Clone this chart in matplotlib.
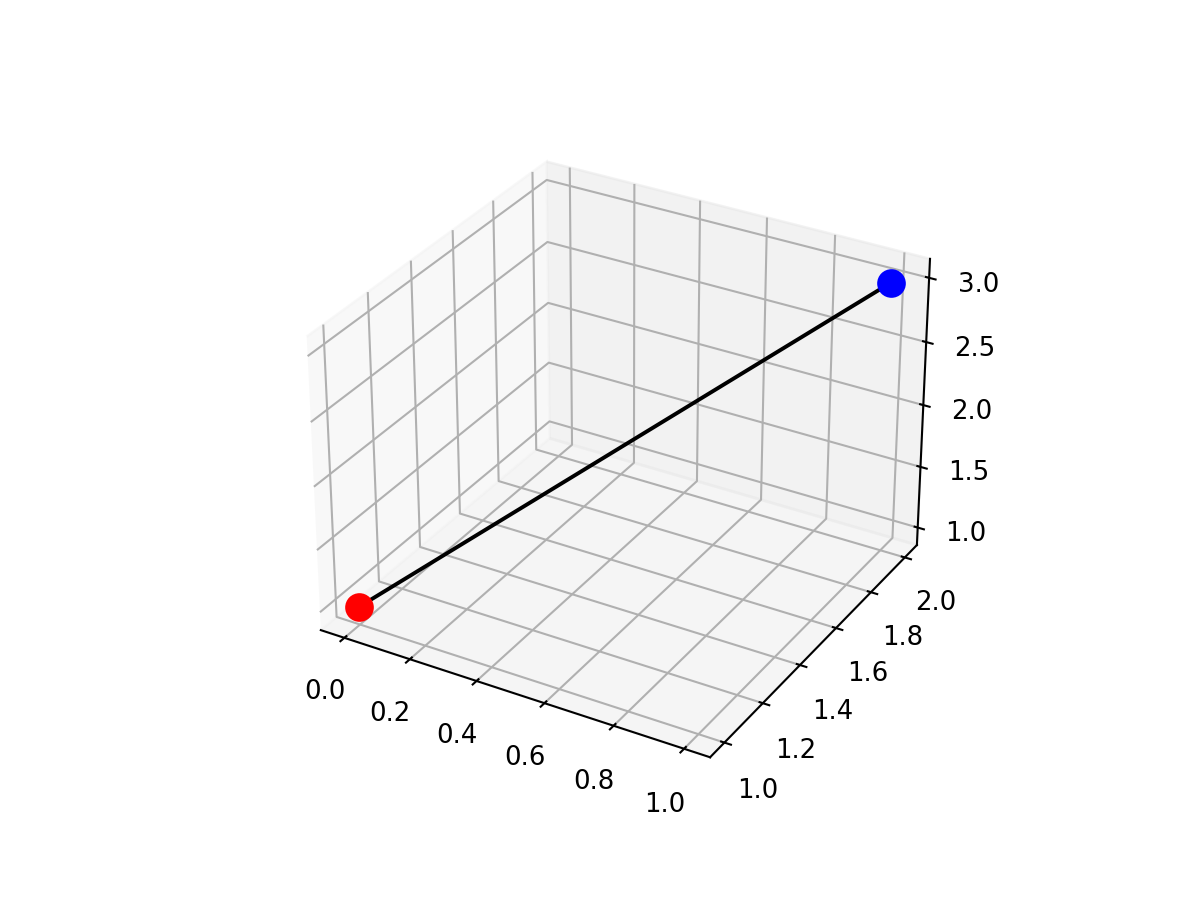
import matplotlib
matplotlib.use('Agg')
import matplotlib.pyplot as plt

# line endpoints
xs = [0, 1]
ys = [1, 2]
zs = [1, 3]
point_colors = ['red', 'blue']


def main():
    fig = plt.figure(figsize=(6.4, 4.8), dpi=187.5)
    ax = fig.add_subplot(projection='3d')
    ax.plot(xs, ys, zs, color='black', linewidth=1.5)
    for x, y, z, c in zip(xs, ys, zs, point_colors):
        ax.scatter([x], [y], [z], color=c, s=100, depthshade=False)
    fig.savefig('out.png', dpi=187.5)


if __name__ == '__main__':
    main()
